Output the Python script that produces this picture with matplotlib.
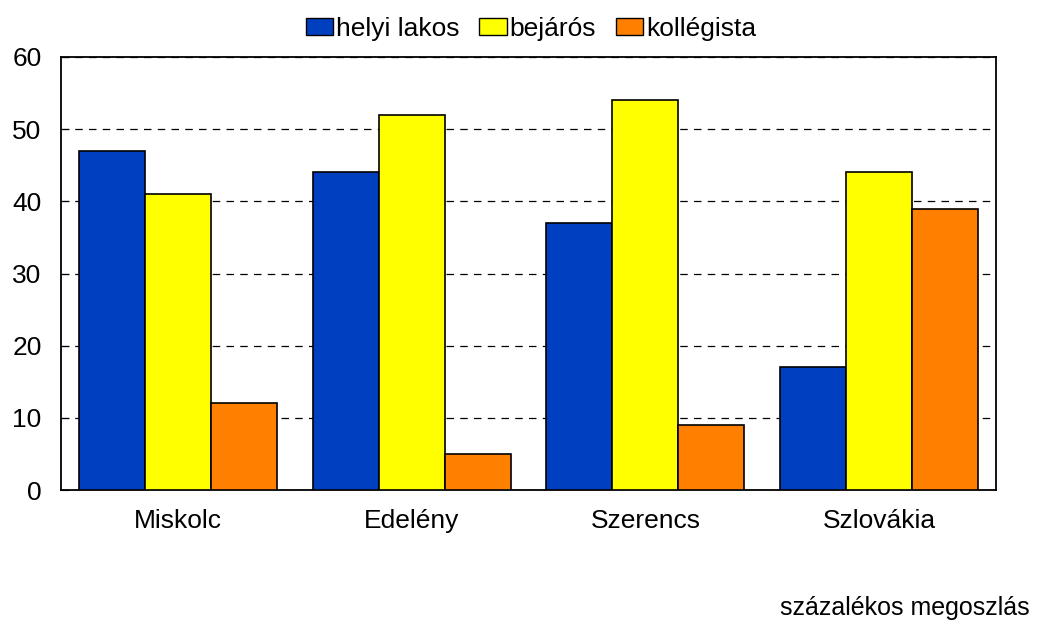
import numpy as np
import matplotlib.pyplot as plt
from matplotlib.patches import Patch

plt.rcParams['font.family'] = ['Liberation Sans', 'DejaVu Sans']

# Data
categories = ['Miskolc', 'Edelény', 'Szerencs', 'Szlovákia']
series = ['helyi lakos', 'bejárós', 'kollégista']
helyi = [47, 44, 37, 17]
bejaros = [41, 52, 54, 44]
kollegista = [12, 5, 9, 39]
colors = ['#0040C0', '#FFFF00', '#FF8000']

fig = plt.figure(figsize=(10.43, 6.22), dpi=100)
ax = fig.add_axes([61 / 1043, 1 - 490 / 622, 935 / 1043, 433 / 622])

x = np.arange(len(categories))
w = 0.282
for i, (vals, c) in enumerate(zip([helyi, bejaros, kollegista], colors)):
    ax.bar(x + (i - 1) * w, vals, w, color=c, edgecolor='black', linewidth=1.2, zorder=3)

ax.set_xlim(-0.5, len(categories) - 0.5)
ax.set_ylim(0, 60)
ax.set_yticks(range(0, 61, 10))
ax.set_xticks(x)
ax.set_xticklabels(categories, fontsize=19)
ax.tick_params(axis='y', labelsize=19, direction='in', length=6, pad=14)
ax.tick_params(axis='x', length=0, pad=14)
ax.yaxis.grid(True, color='black', linestyle=(0, (6, 5)), linewidth=0.9, zorder=0)
for s in ax.spines.values():
    s.set_linewidth(1.3)

handles = [Patch(facecolor=c, edgecolor='black', label=l) for c, l in zip(colors, series)]
fig.legend(handles=handles, loc='center', bbox_to_anchor=(0.509, 1 - 29 / 622), ncol=3,
           frameon=False, fontsize=19, handlelength=1.05, handleheight=0.6,
           handletextpad=0.1, columnspacing=0.75, borderpad=0)

fig.text(1030 / 1043, 1 - 608 / 622, 'százalékos megoszlás', ha='right', va='center', fontsize=18)

fig.savefig('out.png', dpi=100)
